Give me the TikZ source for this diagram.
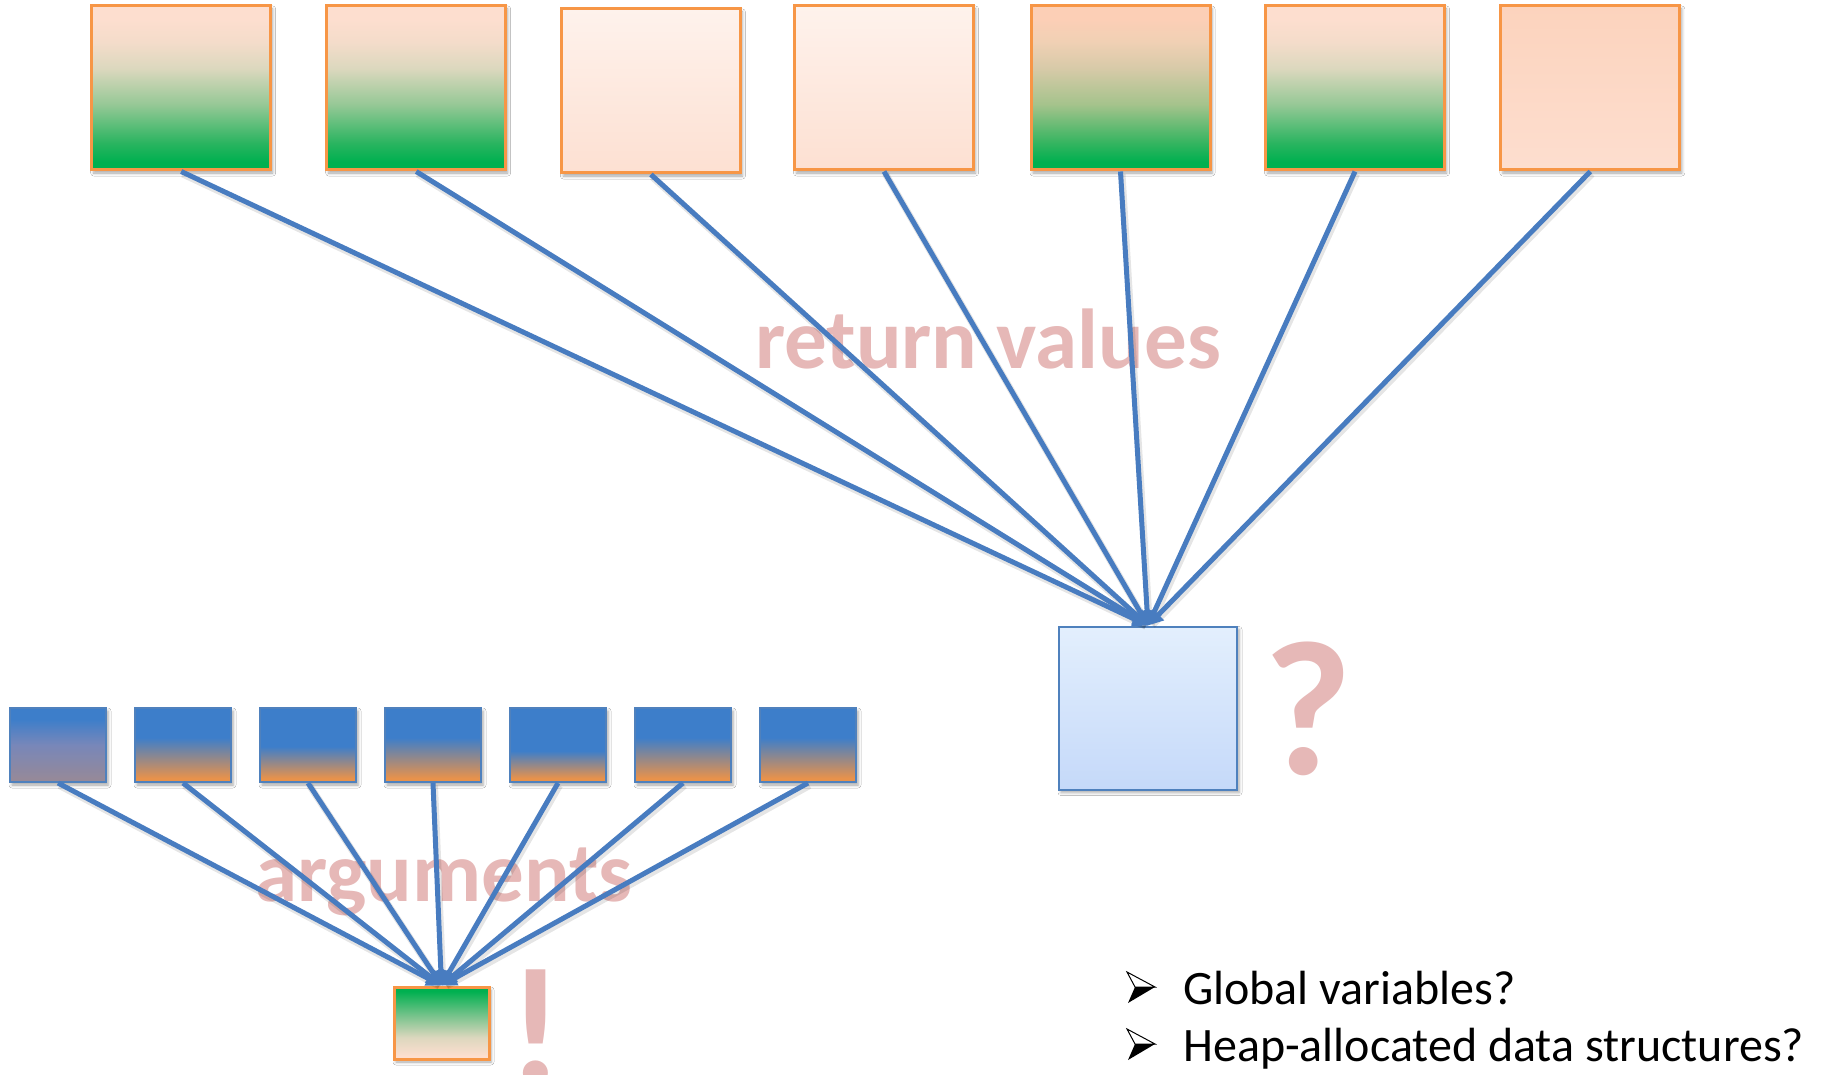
\documentclass[tikz,border=0pt]{standalone}
\usepackage{fontspec}
\setmainfont{Carlito}
\usetikzlibrary{arrows.meta,shadows.blur}

% palette
\definecolor{boxorange}{RGB}{247,150,70}
\definecolor{edgeblue}{RGB}{79,129,189}
\definecolor{linkblue}{RGB}{72,124,192}
\definecolor{pinktext}{RGB}{230,184,183}
\definecolor{peach}{RGB}{253,222,207}
\definecolor{peachdeep}{RGB}{252,207,182}
\definecolor{peachpale}{RGB}{254,242,236}
\definecolor{peachlow}{RGB}{253,224,210}
\definecolor{peachsolid}{RGB}{252,211,189}
\definecolor{grn}{RGB}{0,176,80}
\definecolor{gA}{RGB}{40,180,95}
\definecolor{gB}{RGB}{150,200,150}
\definecolor{gC}{RGB}{220,216,190}
\definecolor{gD}{RGB}{244,220,202}
\definecolor{oA}{RGB}{50,180,95}
\definecolor{oB}{RGB}{165,195,140}
\definecolor{oC}{RGB}{215,202,168}
\definecolor{oD}{RGB}{240,208,180}
\definecolor{bA}{RGB}{120,195,140}
\definecolor{bB}{RGB}{220,215,190}
\definecolor{skyhi}{RGB}{227,239,253}
\definecolor{skylo}{RGB}{197,217,249}
\definecolor{argtop}{RGB}{61,126,202}
\definecolor{argbot}{RGB}{232,146,75}
\definecolor{mauvemid}{RGB}{120,135,185}
\definecolor{mauvebot}{RGB}{152,137,150}

% vertical shadings: the shaded path spans 25bp (bottom) to 75bp (top)
\pgfdeclareverticalshading{peachgreen}{100bp}{color(0bp)=(grn); color(27.5bp)=(grn); color(33bp)=(gA); color(45bp)=(gB); color(56bp)=(gC); color(64bp)=(gD); color(71bp)=(peach); color(100bp)=(peach)}
\pgfdeclareverticalshading{orangegreen}{100bp}{color(0bp)=(grn); color(27.5bp)=(grn); color(33bp)=(oA); color(45bp)=(oB); color(56bp)=(oC); color(64bp)=(oD); color(71bp)=(peachdeep); color(100bp)=(peachdeep)}
\pgfdeclareverticalshading{palepeach}{100bp}{color(0bp)=(peachlow); color(25bp)=(peachlow); color(75bp)=(peachpale); color(100bp)=(peachpale)}
\pgfdeclareverticalshading{solidpeach}{100bp}{color(0bp)=(peach); color(25bp)=(peach); color(75bp)=(peachsolid); color(100bp)=(peachsolid)}
\pgfdeclareverticalshading{paleblue}{100bp}{color(0bp)=(skylo); color(25bp)=(skylo); color(75bp)=(skyhi); color(100bp)=(skyhi)}
\pgfdeclareverticalshading{greenpeach}{100bp}{color(0bp)=(peach); color(27bp)=(peach); color(40bp)=(bB); color(55bp)=(bA); color(72bp)=(grn); color(100bp)=(grn)}
\pgfdeclareverticalshading{bluemauve}{100bp}{color(0bp)=(mauvebot); color(25bp)=(mauvebot); color(50bp)=(mauvemid); color(67.5bp)=(argtop); color(100bp)=(argtop)}
\pgfdeclareverticalshading{bluorangeA}{100bp}{color(0bp)=(argbot); color(27.5bp)=(argbot); color(55bp)=(argtop); color(100bp)=(argtop)}
\pgfdeclareverticalshading{bluorangeB}{100bp}{color(0bp)=(argbot); color(27.5bp)=(argbot); color(49bp)=(argtop); color(100bp)=(argtop)}
\pgfdeclareverticalshading{bluorangeC}{100bp}{color(0bp)=(argbot); color(27.5bp)=(argbot); color(46bp)=(argtop); color(100bp)=(argtop)}

\tikzset{
  softshadow/.style={blur shadow={shadow xshift=2pt, shadow yshift=-3pt, shadow blur radius=3pt, shadow opacity=35}},
  retbox/.style={rectangle, draw=boxorange, line width=3pt, minimum width=179pt, minimum height=164pt, inner sep=0pt, softshadow},
  argbox/.style={rectangle, draw=edgeblue, line width=2pt, minimum width=96pt, minimum height=74pt, inner sep=0pt, softshadow},
  link/.style={draw=linkblue, line width=5pt, -{Triangle[length=15pt,width=15pt]}},
  linkshade/.style={draw=black, opacity=0.10, line width=7pt, shorten >=4pt},
  faint/.style={text=pinktext, font=\bfseries\fontsize{85}{90}\selectfont, inner sep=0pt, anchor=base west},
  bigmark/.style={text=pinktext, inner sep=0pt, anchor=base},
  item/.style={font=\fontsize{48}{58}\selectfont, inner sep=0pt, anchor=base west},
}

\begin{document}
\begin{tikzpicture}[x=1pt, y=-1pt]
  \clip (0,0) rectangle (1821,1075);
  \fill[white] (0,0) rectangle (1821,1075);

  % labels sitting under the connectors
  \node[faint] (retlabel) at (755,368) {return values};
  \node[faint] (arglabel) at (255,901) {arguments};
  \node[bigmark, font=\bfseries\fontsize{192}{210}\selectfont] (qmark) at (1308,774) {?};
  \node[bigmark, font=\bfseries\fontsize{168}{190}\selectfont] (bang) at (536,1084) {!};

  % callers returning values
  \node[retbox, shading=peachgreen]  (r1) at (181.2,88) {};
  \node[retbox, shading=peachgreen]  (r2) at (416.2,88) {};
  \node[retbox, shading=palepeach]   (r3) at (650.9,91) {};
  \node[retbox, shading=palepeach]   (r4) at (884.0,88) {};
  \node[retbox, shading=orangegreen] (r5) at (1120.5,88) {};
  \node[retbox, shading=peachgreen]  (r6) at (1355.0,88) {};
  \node[retbox, shading=solidpeach]  (r7) at (1590.3,88) {};

  \node[rectangle, draw=edgeblue, line width=2pt, minimum width=178pt, minimum height=163pt,
        inner sep=0pt, shading=paleblue, softshadow] (sink) at (1148,708) {};

  % argument sources
  \node[argbox, shading=bluemauve]  (a1) at (58,745) {};
  \node[argbox, shading=bluorangeA] (a2) at (183,745) {};
  \node[argbox, shading=bluorangeB] (a3) at (308,745) {};
  \node[argbox, shading=bluorangeA] (a4) at (433,745) {};
  \node[argbox, shading=bluorangeC] (a5) at (558,745) {};
  \node[argbox, shading=bluorangeA] (a6) at (683,745) {};
  \node[argbox, shading=bluorangeA] (a7) at (808,745) {};

  \node[rectangle, draw=boxorange, line width=3pt, minimum width=95pt, minimum height=72pt,
        inner sep=0pt, shading=greenpeach, softshadow] (callee) at (441.5,1023) {};

  % soft shadows under the connectors
  \begin{scope}[transform canvas={xshift=1.5pt, yshift=-2.5pt}]
    \foreach \i in {1,...,7} {
      \draw[linkshade] (r\i.south) -- (sink.north);
      \draw[linkshade] (a\i.south) -- (callee.north);
    }
  \end{scope}

  % connectors
  \foreach \i in {1,...,7} {
    \draw[link] (r\i.south) -- (sink.north);
    \draw[link] (a\i.south) -- (callee.north);
  }

  % bullet list
  \foreach \k/\yy in {1/972, 2/1029} {
    \draw[black, line width=1pt, fill=white, line join=miter]
      (1127,\yy) -- (1155,\yy+15) -- (1135,\yy+15) -- cycle;
    \fill[black] (1135,\yy+15) -- (1155,\yy+15) -- (1128,\yy+31) -- cycle;
  }
  \node[item] (g1) at (1183,1004) {Global variables?};
  \node[item] (g2) at (1183,1061) {Heap-allocated data structures?};
\end{tikzpicture}
\end{document}
